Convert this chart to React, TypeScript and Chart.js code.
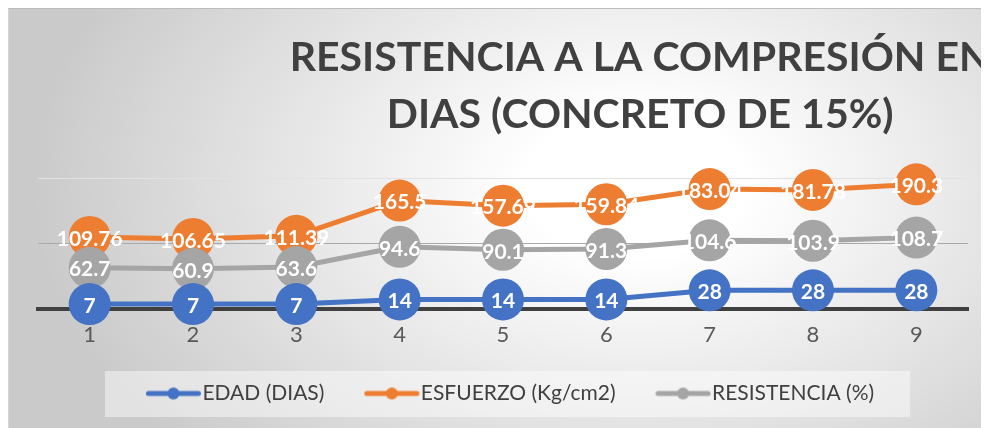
import React, { useEffect, useRef } from "react";
import { Chart, registerables } from "chart.js";

Chart.register(...registerables);

const categories = ["1", "2", "3", "4", "5", "6", "7", "8", "9"];
const edadDias = [7, 7, 7, 14, 14, 14, 28, 28, 28];
const esfuerzo = [109.76, 106.65, 111.39, 165.5, 157.69, 159.84, 183.04, 181.78, 190.3];
const resistencia = [62.7, 60.9, 63.6, 94.6, 90.1, 91.3, 104.6, 103.9, 108.7];
const seriesNames = ["EDAD (DIAS)", "ESFUERZO (Kg/cm2)", "RESISTENCIA (%)"];
const seriesColors = ["#4472C4", "#ED7D31", "#A5A5A5"];
const titleLines = ["RESISTENCIA A LA COMPRESIÓN EN", "DIAS (CONCRETO DE 15%)"];
const yTicks = { min: 0, max: 200, step: 100 };

function legendIcon(color: string): HTMLCanvasElement {
  const c = document.createElement("canvas");
  c.width = 100;
  c.height = 14;
  const g = c.getContext("2d")!;
  g.strokeStyle = color;
  g.lineWidth = 5;
  g.lineCap = "round";
  g.beginPath();
  g.moveTo(34.5, 7);
  g.lineTo(84.5, 7);
  g.stroke();
  g.fillStyle = color;
  g.beginPath();
  g.arc(59.5, 7, 6, 0, Math.PI * 2);
  g.fill();
  return c;
}

const titlePlugin = {
  id: "offsetTitle",
  afterDraw(chart: any) {
    const ctx = chart.ctx;
    ctx.save();
    ctx.fillStyle = "#404040";
    ctx.font = "bold 41px Lato";
    ctx.textAlign = "center";
    ctx.textBaseline = "alphabetic";
    const cx = chart.width * 0.644;
    ctx.fillText(titleLines[0], cx, 62);
    ctx.fillText(titleLines[1], cx, 119);
    ctx.restore();
  },
};

const legendBgPlugin = {
  id: "legendBg",
  beforeDraw(chart: any) {
    const lg = chart.legend;
    if (!lg || !lg.legendHitBoxes || !lg.legendHitBoxes.length) return;
    const boxes = lg.legendHitBoxes;
    let l = Infinity, r = -Infinity, t = Infinity, b = -Infinity;
    for (const h of boxes) {
      l = Math.min(l, h.left);
      r = Math.max(r, h.left + h.width);
      t = Math.min(t, h.top);
      b = Math.max(b, h.top + h.height);
    }
    const ctx = chart.ctx;
    ctx.save();
    ctx.fillStyle = "rgba(255,255,255,0.45)";
    ctx.fillRect(l - 31, t - 12, r - l + 67, b - t + 25);
    ctx.restore();
  },
};

const labelPlugin = {
  id: "pointLabels",
  afterDatasetsDraw(chart: any) {
    const ctx = chart.ctx;
    ctx.save();
    ctx.fillStyle = "#ffffff";
    ctx.font = "bold 21px Lato";
    ctx.textAlign = "center";
    ctx.textBaseline = "middle";
    const orderIdx = [1, 2, 0];
    for (const di of orderIdx) {
      const meta = chart.getDatasetMeta(di);
      const data = chart.data.datasets[di].data;
      meta.data.forEach((pt: any, i: number) => {
        ctx.fillText(String(data[i]), pt.x, pt.y + 2);
      });
    }
    ctx.restore();
  },
};

export default function App() {
  const ref = useRef<HTMLCanvasElement | null>(null);

  useEffect(() => {
    document.documentElement.style.overflow = "hidden";
    const icons = seriesColors.map(legendIcon);
    const mk = (i: number, data: number[], order: number) => ({
      label: seriesNames[i],
      data,
      borderColor: seriesColors[i],
      backgroundColor: seriesColors[i],
      pointBackgroundColor: seriesColors[i],
      pointBorderColor: seriesColors[i],
      pointRadius: 21,
      pointHoverRadius: 21,
      pointBorderWidth: 0,
      borderWidth: 5,
      tension: 0,
      clip: false as any,
      order,
    });
    const chart = new Chart(ref.current!, {
      type: "line",
      data: {
        labels: categories,
        datasets: [mk(0, edadDias, 0), mk(1, esfuerzo, 2), mk(2, resistencia, 1)],
      },
      plugins: [legendBgPlugin, labelPlugin, titlePlugin],
      options: {
        animation: false,
        responsive: false,
        layout: { padding: { top: 169, left: 29, right: 17, bottom: 14 } },
        scales: {
          x: {
            offset: true,
            grid: { display: false },
            border: { color: "#404040", width: 4 },
            ticks: { color: "#595959", font: { family: "Lato", size: 22 }, padding: 5 },
          },
          y: {
            min: yTicks.min,
            max: yTicks.max,
            ticks: { display: false, stepSize: yTicks.step },
            border: { display: false },
            grid: {
              drawTicks: false,
              color: (c: any) =>
                c.tick && c.tick.value === 0
                  ? "rgba(0,0,0,0)"
                  : c.tick && c.tick.value === 100
                  ? "#a9a9a9"
                  : "#e2e2e2",
            },
          },
        },
        plugins: {
          title: { display: false },
          tooltip: { enabled: false },
          legend: {
            position: "bottom",
            labels: {
              color: "#404040",
              font: { family: "Lato", size: 21 },
              usePointStyle: true,
              pointStyleWidth: 56,
              padding: 30,
              sort: (a: any, b: any) => a.datasetIndex - b.datasetIndex,
              generateLabels: (ch: any) => {
                const items = Chart.defaults.plugins.legend.labels.generateLabels(ch);
                return items.map((it: any) => ({ ...it, pointStyle: icons[it.datasetIndex] }));
              },
            },
          },
        },
      },
    });
    return () => chart.destroy();
  }, []);

  return (
    <div
      style={{
        width: 981,
        height: 420,
        boxSizing: "border-box",
        borderTop: "1px solid #bdbdbd",
        borderLeft: "1px solid #d6d6d6",
        background:
          "radial-gradient(ellipse 62% 95% at 64% 42%, #ffffff 0%, #ffffff 18%, #cacaca 100%)",
        position: "relative",
      }}
    >
      <canvas ref={ref} width={980} height={419} style={{ display: "block" }} />
    </div>
  );
}
